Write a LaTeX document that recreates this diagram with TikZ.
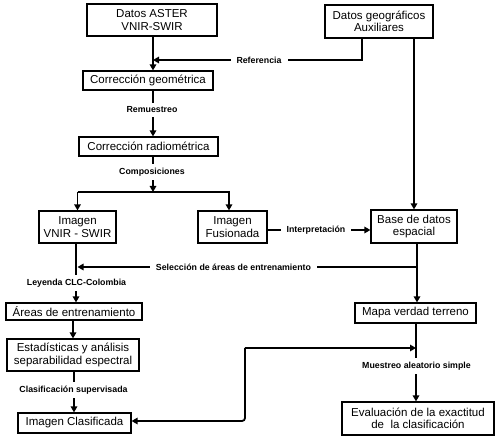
\documentclass[tikz,border=0pt]{standalone}
\usepackage{fontspec}
\setmainfont{Liberation Sans}
\usetikzlibrary{arrows.meta}
\begin{document}
\begin{tikzpicture}[x=1pt,y=-1pt,
  box/.style={draw,line width=1.2pt,inner sep=0pt,align=center,font=\fontsize{11.5}{12.5}\selectfont},
  lab/.style={fill=white,inner xsep=6pt,inner ysep=4pt,font=\bfseries\fontsize{8.8}{9.5}\selectfont},
  conn/.style={line width=1.8pt},
  arr/.style={conn,-{Triangle[length=6pt,width=6.5pt]}}]
\useasboundingbox (0,0) rectangle (495,443);
% boxes
\node[box,minimum width=130pt,minimum height=32pt] (aster) at (152,20) {Datos ASTER\\VNIR-SWIR};
\node[box,minimum width=108pt,minimum height=33pt] (aux) at (379,21.5) {Datos geográficos\\Auxiliares};
\node[box,minimum width=130pt,minimum height=19pt] (geo) at (148,80.5) {Corrección geométrica};
\node[box,minimum width=139pt,minimum height=19pt] (rad) at (148.5,146.5) {Corrección radiométrica};
\node[box,minimum width=77pt,minimum height=32pt] (vnir) at (77.5,227) {Imagen\\VNIR - SWIR};
\node[box,minimum width=69pt,minimum height=32pt] (fus) at (232.5,227) {Imagen\\Fusionada};
\node[box,minimum width=86pt,minimum height=33pt] (base) at (414,226.5) {Base de datos\\espacial};
\node[box,minimum width=136pt,minimum height=17pt] (areas) at (74,311.5) {Áreas de entrenamiento};
\node[box,minimum width=132pt,minimum height=32pt] (est) at (73,355) {Estadísticas y análisis\\separabilidad espectral};
\node[box,minimum width=113pt,minimum height=20pt] (clas) at (74.5,423) {Imagen Clasificada};
\node[box,minimum width=121pt,minimum height=20pt] (mapa) at (415.5,313) {Mapa verdad terreno};
\node[box,minimum width=152pt,minimum height=33pt] (eval) at (418,418.5) {Evaluación de la exactitud\\de\ \ la clasificación};
% helper coordinates
\coordinate (jc) at (153,192);
\coordinate (js) at (417,267);
\coordinate (jm) at (416,348);
\coordinate (jl) at (245,348);
% connectors
\draw[arr] (aster.south -| 153,0) -- (geo.north -| 153,0);
\draw[arr] (aux.south -| 362,0) -- (362,60) -- (153,60);
\draw[arr] (geo.south -| 153,0) -- (rad.north -| 153,0);
\draw[arr] (rad.south -| 153,0) -- (jc);
\draw[conn] (vnir.north |- jc) -- (229,192);
\draw[arr] (vnir.north |- jc) -- (vnir.north);
\draw[arr] (229,191) -- (fus.north -| 229,0);
\draw[arr] (aux.south -| base.north) -- (base.north);
\draw[arr] (fus.east |- 0,230) -- (base.west |- 0,230);
\draw[arr] (base.south -| js) -- (mapa.north -| js);
\draw[arr] (js) -- (vnir.south |- js);
\draw[arr] (vnir.south -| 76,0) -- (areas.north -| 76,0);
\draw[arr] (areas.south -| 73,0) -- (est.north -| 73,0);
\draw[arr] (est.south -| 74,0) -- (clas.north -| 74,0);
\draw[arr] (mapa.south -| jm) -- (eval.north -| jm);
\draw[arr] (jl) -- (jm);
\draw[arr,rounded corners=3pt] (jl) |- (clas.east |- 0,421);
% labels
\node[lab] (lref) at (259,60) {Referencia};
\node[lab] (lrem) at (152,110) {Remuestreo};
\node[lab] (lcomp) at (152,172) {Composiciones};
\node[lab] (lint) at (316,230) {Interpretación};
\node[lab] (lsel) at (233.5,267) {Selección de áreas de entrenamiento};
\node[lab] (lley) at (76.5,283) {Leyenda CLC-Colombia};
\node[lab] (lcla) at (73.5,390) {Clasificación supervisada};
\node[lab] (lmue) at (416.5,366) {Muestreo aleatorio simple};
\end{tikzpicture}
\end{document}
